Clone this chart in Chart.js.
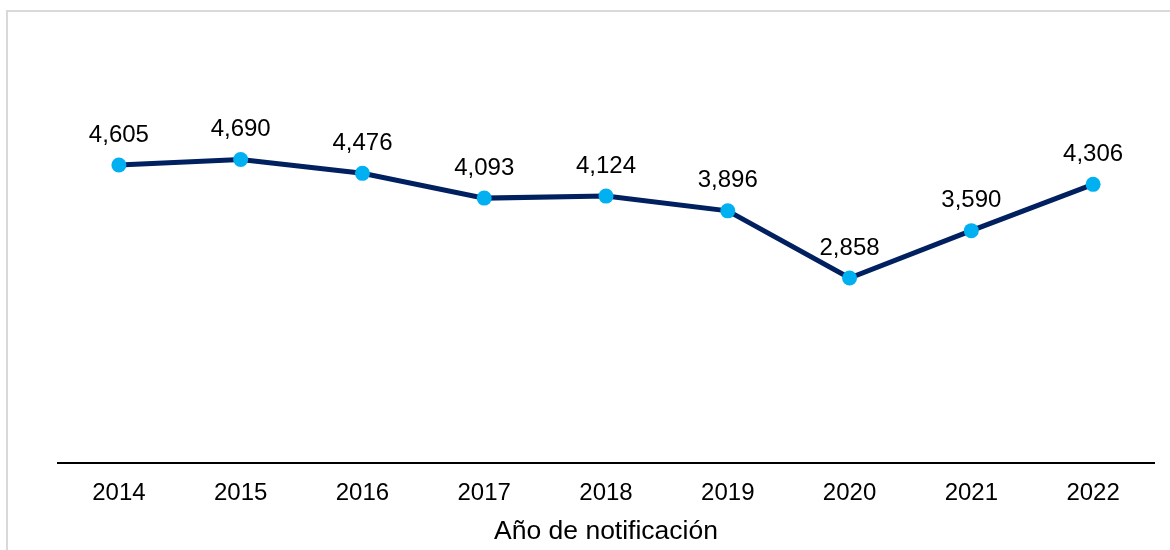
<!DOCTYPE html>
<html>
<head>
<meta charset="utf-8">
<script src="https://cdn.jsdelivr.net/npm/chart.js@4/dist/chart.umd.min.js"></script>
<style>
    html, body { margin: 0; padding: 0; background: #fff; overflow: hidden; }
    #frame {
        position: absolute; left: 6px; top: 10px; width: 1200px; height: 600px;
        border: 2px solid #d9d9d9; box-sizing: border-box;
    }
    #wrap { position: absolute; left: 0; top: 0; width: 1170px; height: 550px; }
</style>
</head>
<body>
<div id="frame"></div>
<div id="wrap"><canvas id="casosChart"></canvas></div>
<script>
(function () {
    var years = ['2014', '2015', '2016', '2017', '2018', '2019', '2020', '2021', '2022'];
    var casos = [4605, 4690, 4476, 4093, 4124, 3896, 2858, 3590, 4306];

    var fontFamily = '"Liberation Sans", Arial, sans-serif';

    // writes each value above its point, with thousands separator
    var valueLabels = {
        id: 'valueLabels',
        afterDatasetsDraw: function (chart) {
            var ctx = chart.ctx;
            var meta = chart.getDatasetMeta(0);
            ctx.save();
            ctx.font = '24px ' + fontFamily;
            ctx.fillStyle = '#000';
            ctx.textAlign = 'center';
            ctx.textBaseline = 'middle';
            meta.data.forEach(function (pt, i) {
                var v = chart.data.datasets[0].data[i];
                ctx.fillText(v.toLocaleString('en-US'), pt.x, pt.y - 30);
            });
            ctx.restore();
        }
    };

    var ctx = document.getElementById('casosChart');
    if (!ctx || !window.Chart) {
        return;
    }
    new Chart(ctx, {
        type: 'line',
        data: {
            labels: years,
            datasets: [{
                data: casos,
                borderColor: '#002060',
                borderWidth: 5,
                pointBackgroundColor: '#00b0f0',
                pointBorderColor: '#00b0f0',
                pointRadius: 7.5,
                pointBorderWidth: 0,
                tension: 0,
                clip: false
            }]
        },
        options: {
            responsive: true,
            maintainAspectRatio: false,
            animation: false,
            layout: { padding: { left: 58, right: 16, top: 10, bottom: 0 } },
            plugins: { legend: { display: false }, tooltip: { enabled: false } },
            scales: {
                x: {
                    offset: true,
                    grid: { display: false, drawTicks: false },
                    border: { display: true, color: '#000', width: 2 },
                    ticks: { color: '#000', padding: 16, font: { size: 24, family: fontFamily } },
                    title: {
                        display: true,
                        text: 'Año de notificación',
                        color: '#000',
                        padding: { top: 4, bottom: 2 },
                        font: { size: 26.5, family: fontFamily }
                    },
                    afterFit: function (scale) { scale.height = 87; }
                },
                y: {
                    display: false,
                    min: 0,
                    max: 7000
                }
            }
        },
        plugins: [valueLabels]
    });
})();
</script>
</body>
</html>
